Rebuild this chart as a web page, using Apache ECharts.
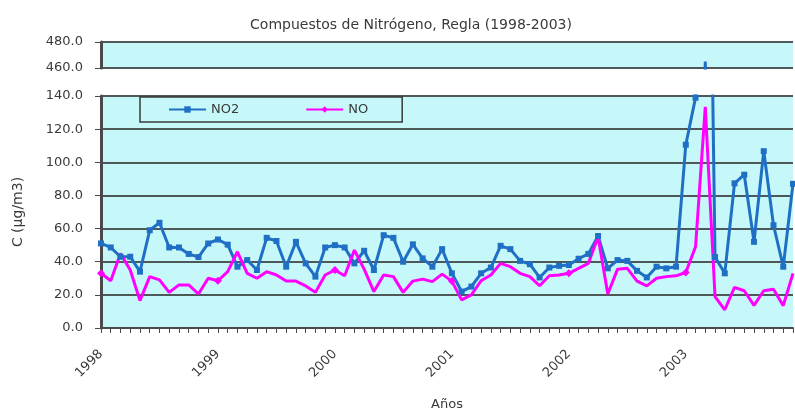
<!DOCTYPE html>
<html>
<head>
<meta charset="utf-8">
<script src="https://cdn.jsdelivr.net/npm/echarts@6/dist/echarts.min.js"></script>
<style>
  html, body { margin: 0; padding: 0; background: #fff; }
  #main { width: 795px; height: 416px; }
</style>
</head>
<body>
<div id="main"></div>
<script>
// datos mensuales 1998-2003
var years = ['1998', '1999', '2000', '2001', '2002', '2003'];
var months = ['01', '02', '03', '04', '05', '06', '07', '08', '09', '10', '11', '12'];

var no2 = [
  51, 48.6, 43, 43, 34, 59, 63.5, 48.6, 48.6, 44.7, 42.8, 51,
  53.4, 50.3, 37, 41, 35, 54.4, 52.5, 37, 52, 39, 31, 48.6,
  50, 48.6, 39, 46.6, 35, 56, 54.4, 40, 50.5, 42, 37, 47.6,
  33, 22, 25, 33, 36.5, 49.6, 47.6, 40.5, 38.5, 30.5, 36.5, 37.5,
  38, 41.8, 44.7, 55.5, 36, 41, 40.5, 34.5, 30.5, 37, 36, 37,
  110.6, 139, 465, 42.8, 33, 87.3, 92.5, 52, 106.7, 62, 37, 87
];
var no = [
  33, 28.5, 45, 35, 16.5, 31, 29, 21.5, 26, 26, 20.5, 30,
  28.5, 34, 46, 33, 30, 34, 32, 28.3, 28.3, 25.4, 21.5, 32,
  35, 31.5, 47, 35.5, 22, 32, 31, 21.5, 28.3, 29.5, 28, 32.5,
  28.3, 17, 20, 28.5, 32, 39, 37, 33, 31, 25.5, 31.5, 32,
  33, 36, 39, 55, 20.5, 35.5, 36, 28.3, 25.4, 30, 31, 31.5,
  33.5, 49, 133.5, 19, 11, 24.5, 22.5, 13.7, 22.5, 23.4, 13.5, 33
];

// eje Y cortado: tramo bajo y tramo alto
var lowRange = [0, 140];
var highRange = [460, 480];

var cats = [];
years.forEach(function (y) {
  months.forEach(function (m) { cats.push(y + '-' + m); });
});

var blue = '#1f6fc5';
var pink = '#ff00ff';
var font = 'DejaVu Sans';
var gridLine = { show: true, lineStyle: { color: '#4f5858', width: 1.8 } };
var leftLine = { show: true, lineStyle: { color: '#4a4a4a', width: 3 } };

var chart = echarts.init(document.getElementById('main'));

var option = {
  animation: false,
  backgroundColor: '#ffffff',
  title: {
    text: 'Compuestos de Nitrógeno, Regla (1998-2003)',
    left: 406,
    textAlign: 'center',
    top: 13,
    textStyle: { fontFamily: font, fontSize: 14, fontWeight: 'normal', color: '#3a3a3a' }
  },
  legend: {
    data: ['NO2', 'NO'],
    left: 140,
    top: 97,
    orient: 'horizontal',
    backgroundColor: '#c6f8f9',
    borderColor: '#3a3a3a',
    borderWidth: 1.5,
    borderRadius: 0,
    padding: [6, 34, 6, 28],
    itemWidth: 37,
    itemHeight: 8,
    itemGap: 66,
    textStyle: { fontFamily: font, fontSize: 13, color: '#3a3a3a' }
  },
  grid: [
    { left: 101, right: 2, top: 42, height: 26, show: true, backgroundColor: '#c6f8f9', borderWidth: 0 },
    { left: 101, right: 2, top: 96, height: 241, show: true, backgroundColor: '#c6f8f9', borderWidth: 0 }
  ],
  xAxis: [
    {
      gridIndex: 0, type: 'category', data: cats, boundaryGap: false,
      axisLine: { show: false }, axisTick: { show: false }, axisLabel: { show: false }, splitLine: { show: false }
    },
    {
      gridIndex: 1, type: 'category', data: cats, boundaryGap: false,
      name: 'Años', nameLocation: 'middle', nameGap: 70,
      nameTextStyle: { fontFamily: font, fontSize: 13, color: '#3a3a3a' },
      axisLine: { show: true, lineStyle: { color: '#4a4a4a', width: 2 } },
      axisTick: { show: true, interval: 0, length: 5, lineStyle: { color: '#4a4a4a', width: 1 } },
      axisLabel: {
        interval: 11, rotate: 45, margin: 24,
        fontFamily: font, fontSize: 13, color: '#3a3a3a',
        formatter: function (v) { return v.slice(0, 4); }
      },
      splitLine: { show: false }
    }
  ],
  yAxis: [
    {
      gridIndex: 0, type: 'value', min: highRange[0], max: highRange[1], interval: 20,
      axisLine: leftLine,
      axisTick: { show: true, length: 6, lineStyle: { color: '#4a4a4a' } },
      axisLabel: { margin: 18, fontFamily: font, fontSize: 13, color: '#3a3a3a',
        formatter: function (v) { return v.toFixed(1); } },
      splitLine: gridLine
    },
    {
      gridIndex: 1, type: 'value', min: lowRange[0], max: lowRange[1], interval: 20,
      name: 'C (µg/m3)', nameLocation: 'middle', nameGap: 76, nameRotate: 90,
      nameTextStyle: { fontFamily: font, fontSize: 14, color: '#3a3a3a' },
      axisLine: leftLine,
      axisTick: { show: true, length: 6, lineStyle: { color: '#4a4a4a' } },
      axisLabel: { margin: 18, fontFamily: font, fontSize: 13, color: '#3a3a3a',
        formatter: function (v) { return v.toFixed(1); } },
      splitLine: gridLine
    }
  ],
  series: [
    {
      name: 'NO2', type: 'line', xAxisIndex: 1, yAxisIndex: 1, data: no2,
      symbol: 'rect', symbolSize: 6, color: blue,
      lineStyle: { color: blue, width: 3 }, itemStyle: { color: blue }
    },
    {
      name: 'NO', type: 'line', xAxisIndex: 1, yAxisIndex: 1, data: no,
      symbol: 'diamond', symbolSize: 8, color: pink,
      lineStyle: { color: pink, width: 3 }, itemStyle: { color: pink }
    },
    {
      // tramo alto del eje cortado
      name: 'NO2', type: 'line', xAxisIndex: 0, yAxisIndex: 0, data: no2,
      showSymbol: false, color: blue,
      lineStyle: { color: blue, width: 3 }
    }
  ]
};

chart.setOption(option);
</script>
</body>
</html>
